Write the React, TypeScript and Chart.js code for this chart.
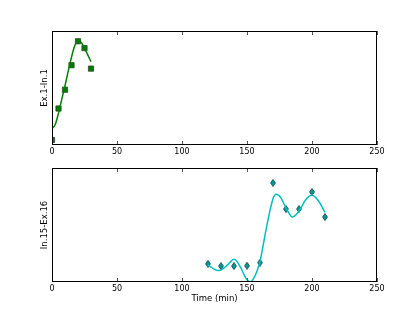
import React, { useEffect, useRef } from "react";
import { Chart, registerables } from "chart.js";

Chart.register(...registerables);

const xTickValues = [0, 50, 100, 150, 200, 250];

const topTimes = [0, 5, 10, 15, 20, 25, 30];
const topValues = [0.044, 0.32, 0.485, 0.7, 0.91, 0.85, 0.67];
const topFitTimes = [0, 2.5, 5, 7.5, 10, 12.5, 15, 17.5, 20, 22.5, 25, 27.5, 30];
const topFitValues = [0.146, 0.18, 0.28, 0.4, 0.52, 0.65, 0.77, 0.87, 0.915, 0.9, 0.85, 0.79, 0.73];

const bottomTimes = [120, 130, 140, 150, 160, 170, 180, 190, 200, 210];
const bottomValues = [0.16, 0.14, 0.14, 0.143, 0.17, 0.87, 0.64, 0.64, 0.79, 0.57];
const bottomFitTimes = [120, 125, 127.5, 130, 135, 140, 145, 147.5, 150, 152.5, 155, 157.5, 160, 165, 170, 172.5, 176, 180, 185, 190, 195, 200, 205, 210];
const bottomFitValues = [0.15, 0.11, 0.1, 0.105, 0.15, 0.2, 0.13, 0.07, 0.02, 0.0, 0.03, 0.09, 0.18, 0.48, 0.73, 0.77, 0.74, 0.65, 0.57, 0.62, 0.72, 0.76, 0.71, 0.61];

const topLabel = "Ex.1-In.1";
const bottomLabel = "In.15-Ex.16";
const xTitle = "Time (min)";

const pts = (xs: number[], ys: number[]) => xs.map((x, i) => ({ x, y: ys[i] }));

function makeDiamond(): HTMLCanvasElement {
  const c = document.createElement("canvas");
  c.width = 6;
  c.height = 8;
  const g = c.getContext("2d")!;
  g.beginPath();
  g.moveTo(3, 0.5);
  g.lineTo(5.4, 4);
  g.lineTo(3, 7.5);
  g.lineTo(0.6, 4);
  g.closePath();
  g.fillStyle = "#009a9a";
  g.fill();
  g.strokeStyle = "#1d4a4a";
  g.lineWidth = 0.9;
  g.stroke();
  return c;
}

const framePlugin = {
  id: "frame",
  afterDatasetsDraw(chart: any) {
    const { ctx, chartArea: a, scales } = chart;
    const xs = scales.x;
    ctx.save();
    ctx.strokeStyle = "#555";
    ctx.lineWidth = 1;
    xs.ticks.forEach((t: any) => {
      const px = Math.round(xs.getPixelForValue(t.value)) + 0.5;
      ctx.beginPath();
      ctx.moveTo(px, a.bottom);
      ctx.lineTo(px, a.bottom - 4);
      ctx.moveTo(px, a.top);
      ctx.lineTo(px, a.top + 4);
      ctx.stroke();
    });
    ctx.strokeStyle = "#000";
    ctx.strokeRect(a.left + 0.5, a.top + 0.5, a.right - a.left - 1, a.bottom - a.top - 1);
    ctx.restore();
  },
};

function makeConfig(
  fitXs: number[], fitYs: number[], xs: number[], ys: number[],
  lineColor: string, marker: any, markerColor: string, markerRadius: number,
  yLabel: string, showXTitle: boolean, padTop: number, xHeight: number
): any {
  return {
    type: "line",
    data: {
      datasets: [
        {
          data: pts(fitXs, fitYs),
          borderColor: lineColor,
          borderWidth: 1.5,
          pointRadius: 0,
          cubicInterpolationMode: "monotone",
          fill: false,
          clip: 0,
        },
        {
          data: pts(xs, ys),
          showLine: false,
          pointStyle: marker,
          pointRadius: markerRadius,
          backgroundColor: markerColor,
          borderColor: "#2a4a2a",
          borderWidth: 0.8,
          clip: 0,
        },
      ],
    },
    options: {
      animation: false,
      responsive: false,
      devicePixelRatio: 1,
      layout: { padding: { left: 0, right: 42, top: padTop, bottom: 0 } },
      plugins: { legend: { display: false }, tooltip: { enabled: false } },
      scales: {
        x: {
          type: "linear",
          min: 0,
          max: 250,
          afterBuildTicks: (scale: any) => {
            scale.ticks = xTickValues.map((v) => ({ value: v }));
          },
          afterFit: (scale: any) => {
            scale.height = xHeight;
          },
          grid: { display: false, drawTicks: false },
          border: { display: false },
          ticks: { color: "#000", font: { size: 8 }, padding: 2, maxRotation: 0, autoSkip: false },
          title: {
            display: showXTitle,
            text: xTitle,
            color: "#000",
            font: { size: 8.5 },
            padding: { top: 0, bottom: 10 },
          },
        },
        y: {
          type: "linear",
          min: 0,
          max: 1,
          afterFit: (scale: any) => {
            scale.width = 52;
          },
          grid: { display: false, drawTicks: false },
          border: { display: false },
          ticks: { display: false },
          title: {
            display: true,
            text: yLabel,
            color: "#000",
            font: { size: 8.5 },
            padding: { top: 40, bottom: 0 },
          },
        },
      },
    },
    plugins: [framePlugin],
  };
}

export default function App() {
  const topRef = useRef<HTMLCanvasElement>(null);
  const botRef = useRef<HTMLCanvasElement>(null);

  useEffect(() => {
    Chart.defaults.font.family = "'DejaVu Sans', sans-serif";
    const c1 = new Chart(
      topRef.current!,
      makeConfig(topFitTimes, topFitValues, topTimes, topValues, "#008000", "rect", "#007a00", 3.7, topLabel, false, 31, 15)
    );
    const c2 = new Chart(
      botRef.current!,
      makeConfig(bottomFitTimes, bottomFitValues, bottomTimes, bottomValues, "#00bfbf", makeDiamond(), "#009a9a", 4, bottomLabel, true, 8, 32)
    );
    return () => {
      c1.destroy();
      c2.destroy();
    };
  }, []);

  return (
    <div style={{ position: "absolute", left: 0, top: 0, width: 419, height: 314, background: "#fff" }}>
      <canvas ref={topRef} width={419} height={160} style={{ position: "absolute", left: 0, top: 0, width: 419, height: 160 }} />
      <canvas ref={botRef} width={419} height={154} style={{ position: "absolute", left: 0, top: 160, width: 419, height: 154 }} />
    </div>
  );
}
